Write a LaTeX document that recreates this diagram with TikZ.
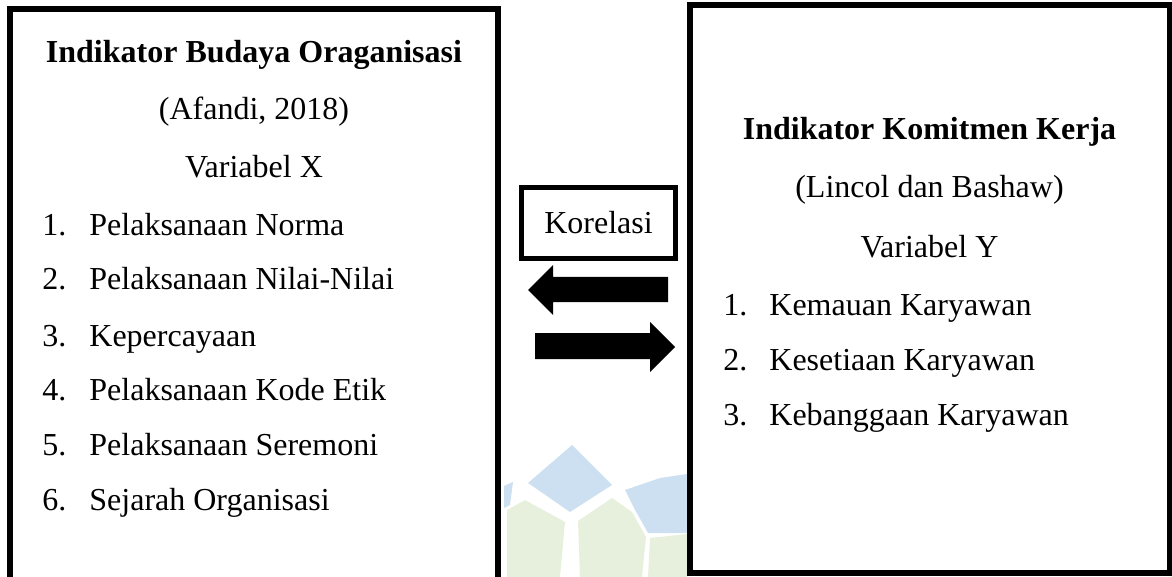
\documentclass[tikz,border=0pt]{standalone}
\usepackage{fontspec}
\setmainfont{Liberation Serif}
\usetikzlibrary{positioning}

\definecolor{wmblue}{RGB}{205,224,241}
\definecolor{wmgreen}{RGB}{231,240,221}

\tikzset{
    boxline/.style={line width=3pt},
    txt/.style={inner sep=0pt, font=\fontsize{16}{19}\selectfont},
    ttl/.style={inner sep=0pt, font=\fontsize{16}{19}\selectfont\bfseries},
    item/.style={txt, anchor=base west},
    ctr/.style={txt, anchor=base},
}

\begin{document}
\begin{tikzpicture}[x=0.5pt,y=-0.5pt]
    \useasboundingbox (0,0) rectangle (1172,577);
    \clip (0,0) rectangle (1172,577);
    %\draw[help lines] (0,0) grid[step=50] (1172,577);
    % watermark
        \fill[wmblue] (572,445) -- (612,485) -- (570,512) -- (528,483) -- cycle;
        \fill[wmblue] (504,486) -- (513,482) -- (510,505) -- (504,508) -- cycle;
        \fill[wmblue] (625,490) -- (660,478) -- (687,474) -- (687,533) -- (648,533) -- (634,508) -- cycle;
        \fill[wmgreen] (507,510) -- (525,500) -- (565,522) -- (560,577) -- (507,577) -- cycle;
        \fill[wmgreen] (578,521) -- (612,498) -- (632,512) -- (646,537) -- (642,577) -- (580,577) -- cycle;
        \fill[wmgreen] (650,538) -- (687,534) -- (687,577) -- (648,577) -- cycle;
    % boxes
        \filldraw[boxline, fill=white] (10,600) -- (10,9) -- (498,9) -- (498,600);
        \filldraw[boxline, fill=white] (690,5.5) rectangle (1169.5,572.5);
    % left box
        \node[ttl, anchor=base] (ttlX) at (254,63) {Indikator Budaya Oraganisasi};
        \node[ctr] (srcX) at (254,120) {(Afandi, 2018)};
        \node[ctr] (varX) at (254,178) {Variabel X};
        \node[item] (nx1) at (42,235) {1.};
        \node[item] (x1) at (89,235) {Pelaksanaan Norma};
        \node[item] (nx2) at (42,290) {2.};
        \node[item] (x2) at (89,290) {Pelaksanaan Nilai-Nilai};
        \node[item] (nx3) at (42,346) {3.};
        \node[item] (x3) at (89,346) {Kepercayaan};
        \node[item] (nx4) at (42,400) {4.};
        \node[item] (x4) at (89,400) {Pelaksanaan Kode Etik};
        \node[item] (nx5) at (42,455) {5.};
        \node[item] (x5) at (89,455) {Pelaksanaan Seremoni};
        \node[item] (nx6) at (42,510) {6.};
        \node[item] (x6) at (89,510) {Sejarah Organisasi};
    % right box
        \node[ttl, anchor=base] (ttlY) at (929.5,140) {Indikator Komitmen Kerja};
        \node[ctr] (srcY) at (929.5,198) {(Lincol dan Bashaw)};
        \node[ctr] (varY) at (929.5,257) {Variabel Y};
        \node[item] (ny1) at (723,315) {1.};
        \node[item] (y1) at (769,315) {Kemauan Karyawan};
        \node[item] (ny2) at (723,370) {2.};
        \node[item] (y2) at (769,370) {Kesetiaan Karyawan};
        \node[item] (ny3) at (723,425) {3.};
        \node[item] (y3) at (769,425) {Kebanggaan Karyawan};
    % korelasi
        \node[txt, draw, line width=2.5pt, minimum width=77pt, minimum height=35.5pt] (kor) at (598.5,223) {Korelasi};
        \fill (528,290) -- (553,265) -- (553,277) -- (668,277) -- (668,302) -- (553,302) -- (553,315) -- cycle;
        \fill (675,347) -- (650,322) -- (650,333) -- (535,333) -- (535,359) -- (650,359) -- (650,372) -- cycle;
\end{tikzpicture}
\end{document}
